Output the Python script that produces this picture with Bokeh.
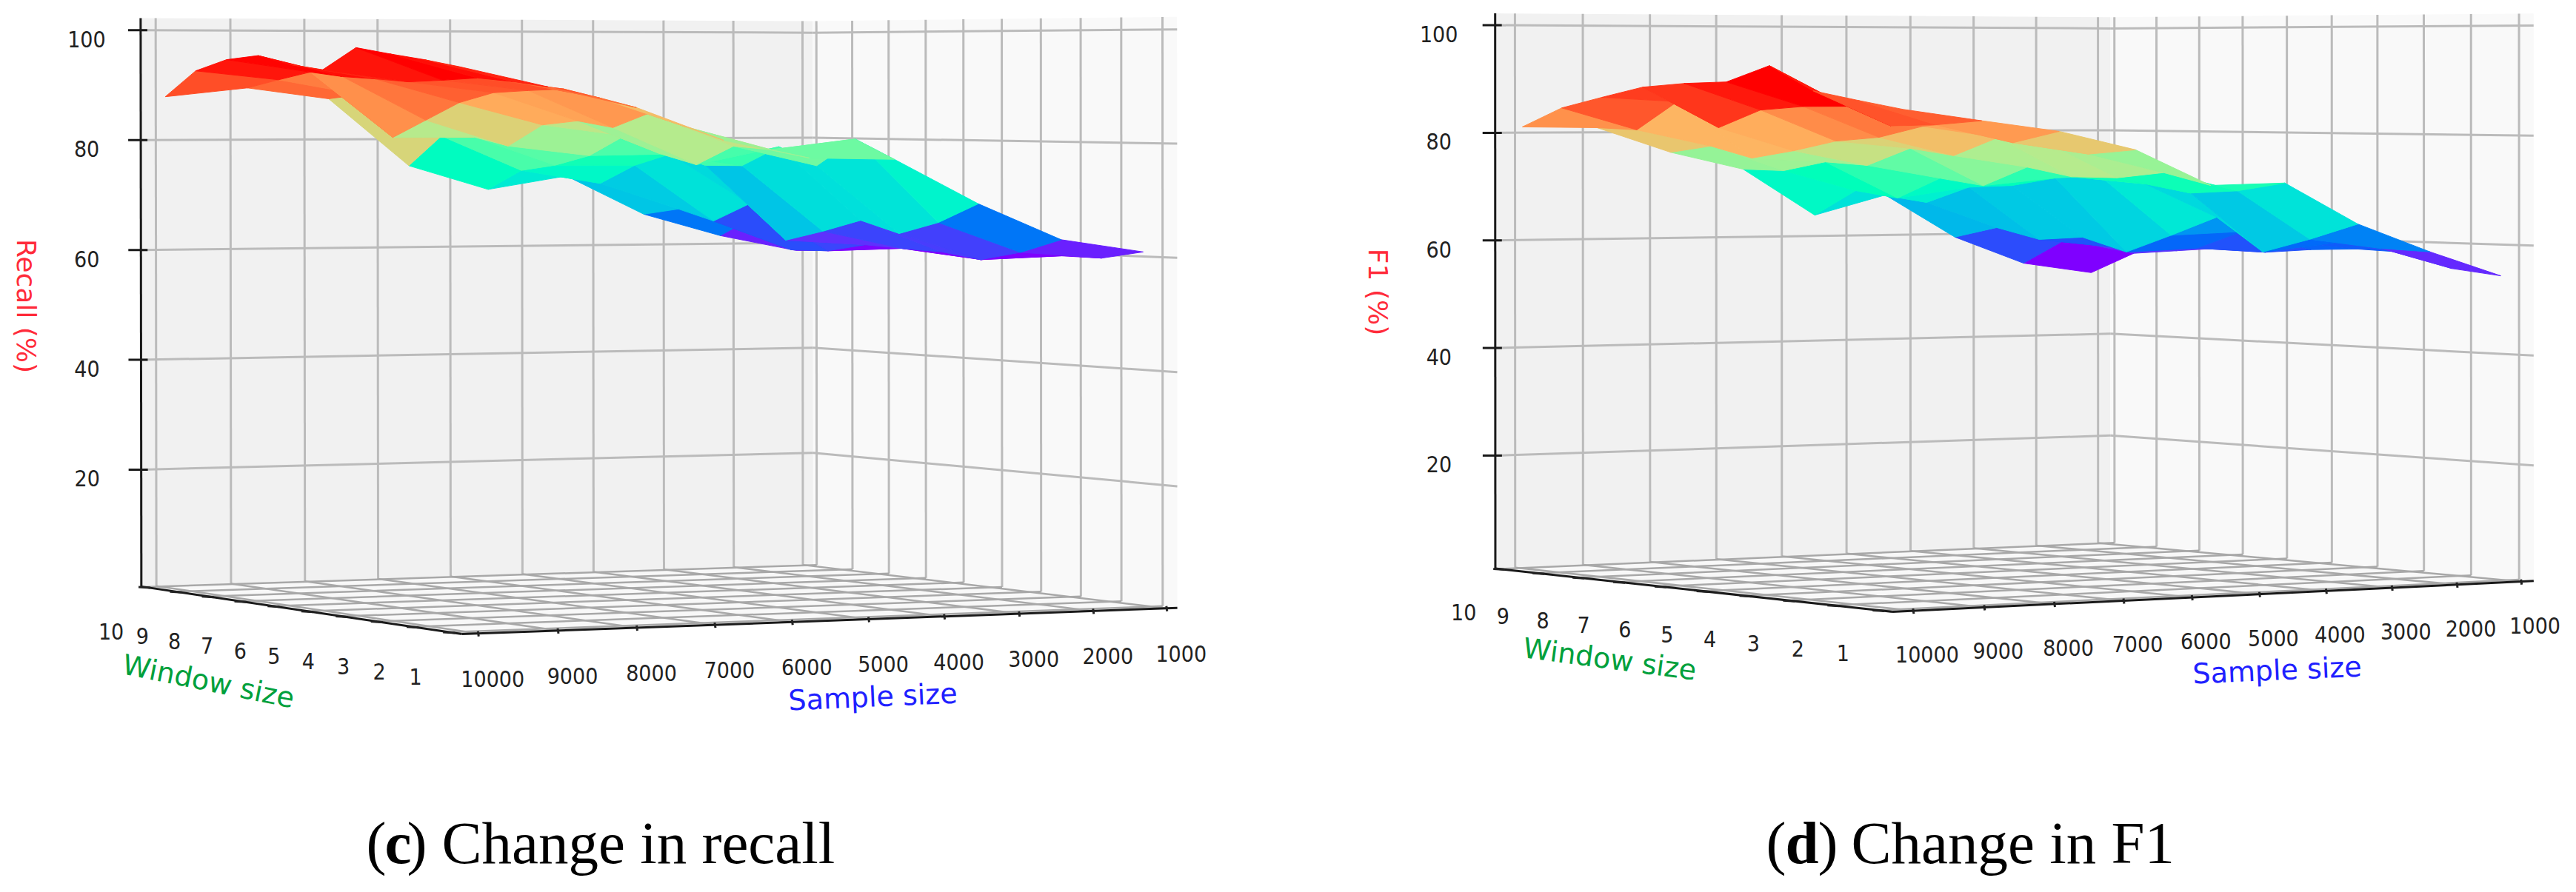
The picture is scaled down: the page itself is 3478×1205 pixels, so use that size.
import numpy as np
from bokeh.plotting import figure
from bokeh.layouts import row
from bokeh.models import Range1d
from bokeh.embed import file_html
from bokeh.resources import INLINE
from bokeh.core.properties import value

sample_ticks = [10000, 9000, 8000, 7000, 6000, 5000, 4000, 3000, 2000, 1000]
window_ticks = [10, 9, 8, 7, 6, 5, 4, 3, 2, 1]
z_ticks = [20, 40, 60, 80, 100]

recall_z = [
 [87.9,92.6,94.6,95.3,93.7,92.8,96.6,95.5,94.5,93.3],
 [89.5,91.0,92.4,91.6,91.2,90.7,91.0,91.4,90.8,89.9],
 [87.5,88.3,80.6,83.8,87.0,88.8,89.2,89.5,88.0,86.4],
 [75.1,80.7,80.6,79.1,83.0,83.8,82.7,85.3,83.0,80.8],
 [70.6,74.3,75.4,77.3,81.0,77.9,76.1,79.5,79.0,77.7],
 [73.0,71.8,75.3,77.5,75.6,75.7,79.2,76.0,80.8,77.4],
 [65.7,66.9,64.9,68.3,61.9,63.8,66.0,63.9,66.1,69.6],
 [61.5,65.4,59.4,59.5,60.9,60.5,60.2,59.1,60.7,63.2],
 [58.5,58.8,60.0,59.8,59.4,58.3,60.0,59.6,59.5,60.9],
]
f1_z = [
 [81.1,84.7,86.7,88.6,89.3,89.6,92.5,88.1,86.5,85.0],
 [80.9,80.6,85.9,81.2,84.5,85.2,85.3,81.9,82.2,83.0],
 [76.2,77.5,75.4,76.9,78.8,79.6,81.7,82.7,79.0,81.1],
 [72.9,72.8,74.6,74.1,77.4,76.2,79.6,79.1,76.9,77.8],
 [64.0,68.9,67.7,71.6,70.4,74.0,72.4,72.4,73.5,71.4],
 [67.7,66.5,69.6,70.1,71.7,72.3,71.0,69.5,70.1,71.7],
 [59.4,61.5,59.5,60.2,57.7,61.1,64.7,58.6,61.2,64.2],
 [54.1,59.0,57.9,57.6,58.2,61.6,60.1,60.1,59.3,59.0],
 [52.0,56.1,56.9,57.7,57.2,58.0,58.4,58.1,55.4,54.4],
]

def fit_camera(pts):
    A = []
    for (s, w, z), (x, y) in pts:
        X = [s / 1000, w, z / 10, 1]
        A.append(X + [0, 0, 0, 0] + [-x * v for v in X])
        A.append([0, 0, 0, 0] + X + [-y * v for v in X])
    return np.linalg.svd(np.array(A, float))[2][-1].reshape(3, 4)

def proj(P, s, w, z):
    s = np.asarray(s, float)
    X = np.stack([s / 1000, np.asarray(w, float) * np.ones_like(s),
                  np.asarray(z, float) / 10 * np.ones_like(s), np.ones_like(s)], -1)
    q = X @ P.T
    return q[..., 0] / q[..., 2], q[..., 1] / q[..., 2], q[..., 2]

def solve_w(P, s, xt, z=50):
    A = P[0, 0] * s / 1000 + P[0, 2] * z / 10 + P[0, 3]
    B = P[0, 1]
    C = P[2, 0] * s / 1000 + P[2, 2] * z / 10 + P[2, 3]
    D = P[2, 1]
    return (A - xt * C) / (xt * D - B)

def rainbow(t):
    r = np.interp(t, [0, .06, .12, .14, .48, .55, .62, .7, .75, 1], [.5, .38, .05, 0, 0, .38, .70, .88, 1, 1])
    g = np.sin(np.pi * t)
    b = np.cos(np.pi * t / 2)
    return "#%02x%02x%02x" % (int(r * 255), int(g * 255), int(b * 255))

def panel(xr, cfg, surface):
    p = figure(width=1735, height=1195, x_range=Range1d(*xr), y_range=Range1d(1195, 0),
               toolbar_location=None, output_backend="svg", min_border=0, outline_line_color=None)
    p.axis.visible = False
    p.grid.visible = False
    sh, sl, wh, wl, zl, zh = cfg["lims"]
    L, Lt, B, Bt, R, Rt, N = cfg["pix"]
    P = fit_camera([((sh, wh, zl), L), ((sh, wh, zh), Lt), ((sl, wh, zl), B), ((sl, wh, zh), Bt),
                    ((sl, wl, zl), R), ((sl, wl, zh), Rt), ((sh, wl, zl), N)])
    def pr(s, w, z):
        x, y, _ = proj(P, np.array([float(s)]), w, z)
        return float(x[0]), float(y[0])
    def poly(corners, color):
        pts = [pr(*c) for c in corners]
        p.patch([a for a, b in pts], [b for a, b in pts], fill_color=color, line_color=None)
    poly([(sh, wh, zl), (sl, wh, zl), (sl, wh, zh), (sh, wh, zh)], "#f1f1f1")
    poly([(sl, wh, zl), (sl, wl, zl), (sl, wl, zh), (sl, wh, zh)], "#f9f9f9")
    poly([(sh, wh, zl), (sl, wh, zl), (sl, wl, zl), (sh, wl, zl)], "#f8f8f8")

    gx, gy = [], []
    def add(a, b):
        ax, ay = pr(*a); bx, by = pr(*b)
        gx.append([ax, bx]); gy.append([ay, by])
    for s in sample_ticks:
        add((s, wh, zl), (s, wh, zh))
    for w in window_ticks:
        add((sl, w, zl), (sl, w, zh))
    for z in z_ticks:
        add((sh, wh, z), (sl, wh, z))
        add((sl, wh, z), (sl, wl, z))
    p.multi_line(gx, gy, line_color="#bbbbbb", line_width=3)
    fx, fy = [], []
    for s in sample_ticks:
        a = pr(s, wh, zl); b = pr(s, wl, zl)
        fx.append([a[0], b[0]]); fy.append([a[1], b[1]])
    for w in window_ticks:
        a = pr(sh, w, zl); b = pr(sl, w, zl)
        fx.append([a[0], b[0]]); fy.append([a[1], b[1]])
    p.multi_line(fx, fy, line_color="#a8a8a8", line_width=2.5)

    ax_x, ax_y = [], []
    for a, b in [((sh, wh, zl), (sh, wh, zh)), ((sh, wh, zl), (sh, wl, zl)), ((sh, wl, zl), (sl, wl, zl))]:
        u = pr(*a); v = pr(*b)
        ax_x.append([u[0], v[0]]); ax_y.append([u[1], v[1]])
    for z in z_ticks:
        u = pr(sh, wh, z)
        ax_x.append([u[0] - 17, u[0] + 9]); ax_y.append([u[1], u[1]])
    p.multi_line(ax_x, ax_y, line_color="#1a1a1a", line_width=3)
    tx, ty = [], []
    for s in sample_ticks:
        u = pr(s, wl, zl)
        tx.append([u[0], u[0] + 1]); ty.append([u[1] - 3, u[1] + 4])
    for w in window_ticks:
        u = pr(sh, w, zl)
        tx.append([u[0] - 8, u[0] + 8]); ty.append([u[1], u[1] + 1])
    p.multi_line(tx, ty, line_color="#222222", line_width=3)

    ZZ = np.array(surface, float)
    ns, nw = ZZ.shape
    s_mesh = np.linspace(sample_ticks[0], sample_ticks[-1], ns)
    cx = cfg["mesh_x"]
    w00 = solve_w(P, s_mesh[0], cx[0]); w09 = solve_w(P, s_mesh[0], cx[1])
    w80 = solve_w(P, s_mesh[-1], cx[2]); w89 = solve_w(P, s_mesh[-1], cx[3])
    SS = np.zeros((ns, nw)); WW = np.zeros((ns, nw))
    for i in range(ns):
        u = i / (ns - 1)
        w0 = w00 + (w80 - w00) * u
        w9 = w09 + (w89 - w09) * u
        for j in range(nw):
            SS[i, j] = s_mesh[i]
            WW[i, j] = w0 + (w9 - w0) * j / (nw - 1)
    X, Y, Q = proj(P, SS, WW, ZZ)
    sign = np.sign(np.mean(Q))
    quads = []
    for i in range(ns - 1):
        for j in range(nw - 1):
            idx = [(i, j), (i + 1, j), (i + 1, j + 1), (i, j + 1)]
            quads.append((np.mean([ZZ[a] for a in idx]), np.mean([Q[a] * sign for a in idx]), idx))
    zs = [q[0] for q in quads]
    lo, hi = min(zs), max(zs)
    quads.sort(key=lambda q: -q[1])
    xs = [[X[a] for a in q[2]] for q in quads]
    ys = [[Y[a] for a in q[2]] for q in quads]
    cols = [rainbow((q[0] - lo) / (hi - lo)) for q in quads]
    p.patches(xs, ys, fill_color=cols, line_color=cols, line_width=1)

    def label(xs, ys, txt, size, color="#222222", font="DejaVu Sans Condensed", angle=0.0, align="center", baseline="middle", style="normal"):
        p.text(xs, ys, text=txt, text_font=value(font), text_font_size=value(size), text_color=color, angle=angle,
               text_align=align, text_baseline=baseline, text_font_style=style)
    zp = [pr(sh, wh, z) for z in z_ticks]
    label([a + cfg["z_off"][0] for a, b in zp], [b + cfg["z_off"][1] for a, b in zp], [str(z) for z in z_ticks], "30px")
    wp = [pr(sh, w, zl) for w in window_ticks]
    label([a + cfg["w_off"][0] for a, b in wp], [b + cfg["w_off"][1] for a, b in wp], [str(w) for w in window_ticks], "30px")
    sp = [pr(s, wl, zl) for s in sample_ticks]
    label([a + cfg["s_off"][0] for a, b in sp], [b + cfg["s_off"][1] for a, b in sp], [str(s) for s in sample_ticks], "30px")
    t = cfg["titles"]
    label([t["z"][0]], [t["z"][1]], [t["z"][2]], "36px", "#ff2b3a", "DejaVu Sans", -np.pi / 2)
    label([t["w"][0]], [t["w"][1]], ["Window size"], "38px", "#00a03c", "DejaVu Sans", -np.radians(t["w"][2]))
    label([t["s"][0]], [t["s"][1]], ["Sample size"], "38px", "#2020ff", "DejaVu Sans", np.radians(t["s"][2]))
    c = cfg["cap"]
    cy = 1138
    label([c[0]], [cy], ["("], "81px", "#000000", "Liberation Serif", align="left")
    label([c[1]], [cy], [c[4]], "81px", "#000000", "Liberation Serif", align="left", style="bold")
    label([c[2]], [cy], [")"], "81px", "#000000", "Liberation Serif", align="left")
    label([c[3]], [cy], [c[5]], "81px", "#000000", "Liberation Serif", align="left")
    return p

cfg_c = dict(lims=(10200, 850, 10.1, 0.65, -1.3, 102.2),
             pix=[(189, 790), (189, 25), (1098, 762), (1098, 29), (1588, 822), (1588, 20), (625, 857)],
             mesh_x=(223, 620, 1074, 1543), z_off=(-73, 12), w_off=(-45, 60), s_off=(20, 61),
             titles=dict(z=(35, 413, "Recall (%)"), w=(281, 920, 11.4), s=(1178, 941, 2.5)),
             cap=(494, 519, 549, 596, "c", "Change in recall"))
cfg_d = dict(lims=(10290, 800, 10.1, 0.7, -1.0, 102.2),
             pix=[(2018, 767), (2018, 18), (2849, 732), (2849, 23), (3420, 785), (3420, 17), (2555, 826)],
             mesh_x=(2055, 2569, 2823, 3376), z_off=(-76, 12), w_off=(-48, 58), s_off=(19, 59),
             titles=dict(z=(1860, 394, "F1 (%)"), w=(2173, 890, 7.5), s=(3074, 905, 2.5)),
             cap=(2384, 2410, 2454, 2499, "d", "Change in F1"))

p1 = panel((0, 1735), cfg_c, recall_z)
p2 = panel((1735, 3470), cfg_d, f1_z)
layout = row(p1, p2, spacing=0)
open("out.html", "w").write(file_html(layout, INLINE))
